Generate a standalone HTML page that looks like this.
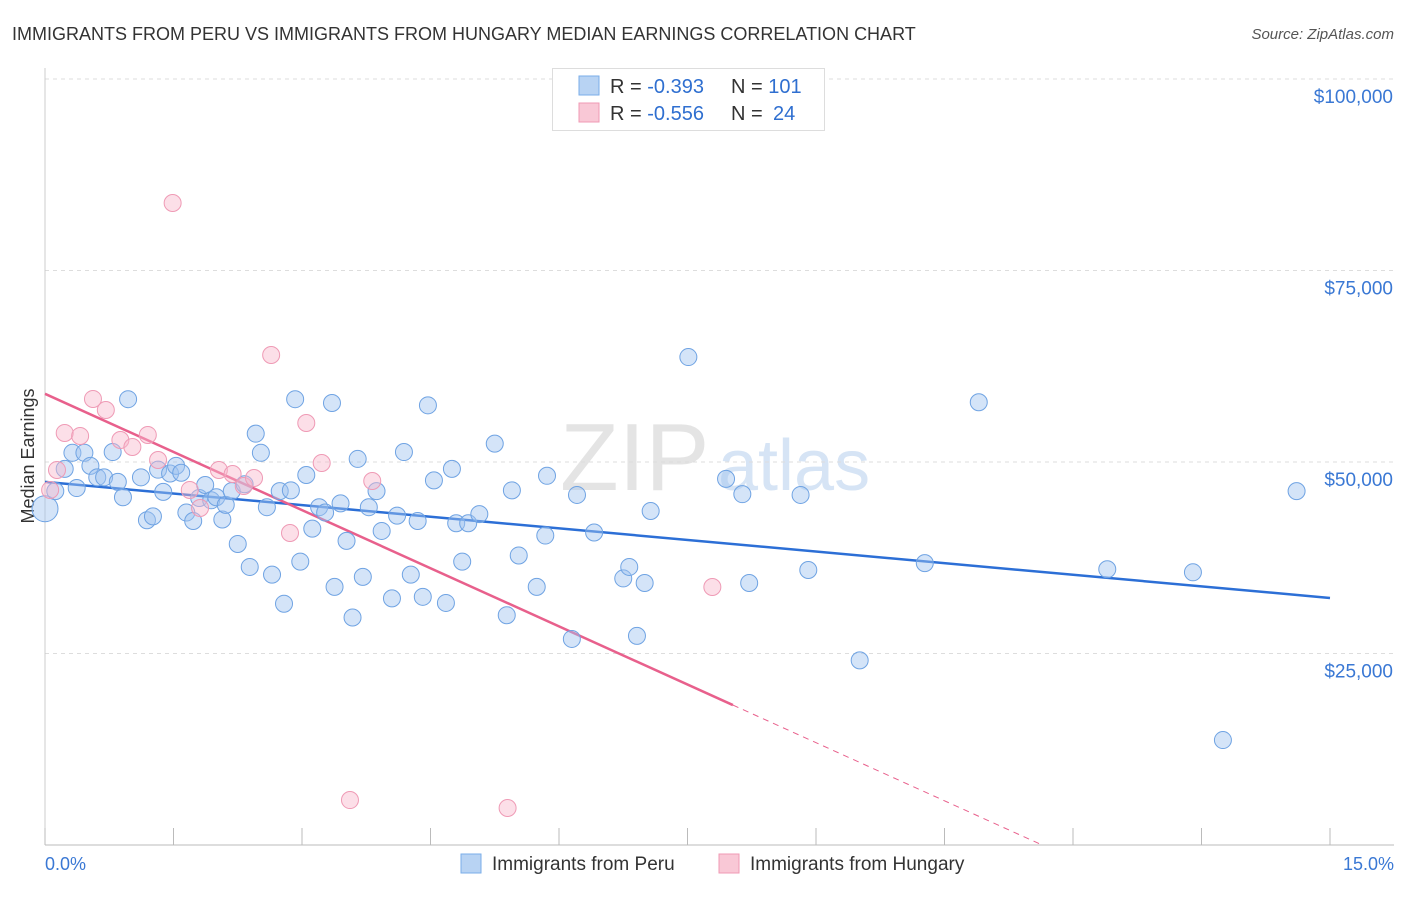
<!DOCTYPE html>
<html><head><meta charset="utf-8"><style>
body{margin:0;background:#fff;font-family:"Liberation Sans",sans-serif;}
svg text{font-family:"Liberation Sans",sans-serif;}
</style></head><body>
<svg id="c" width="1406" height="892" xmlns="http://www.w3.org/2000/svg">
<text x="12" y="40" font-size="18" fill="#333">IMMIGRANTS FROM PERU VS IMMIGRANTS FROM HUNGARY MEDIAN EARNINGS CORRELATION CHART</text>
<text x="1394" y="39" font-size="15" fill="#555" font-style="italic" text-anchor="end">Source: ZipAtlas.com</text>
<text x="560" y="490" font-size="96" fill="#e4e4e4" font-family="Liberation Serif">ZIP</text>
<text x="718" y="490" font-size="72" fill="#d6e4f5">atlas</text>
<text x="34" y="456" font-size="18" fill="#333" text-anchor="middle" transform="rotate(-90 34 456)">Median Earnings</text>
<g id="grid"></g><g id="axes"></g><g id="lines"></g><g id="pts"></g>
<g>
<rect x="552.5" y="68.5" width="272" height="62" fill="#fff" stroke="#ddd"/>
<rect x="579" y="76" width="20" height="19" fill="#b8d3f3" stroke="#7aaee8"/>
<rect x="579" y="103" width="20" height="19" fill="#f9c8d6" stroke="#f09ab4"/>
<text x="610" y="93" font-size="20" fill="#333">R = <tspan fill="#2f6fd0">-0.393</tspan><tspan x="731">N = </tspan><tspan fill="#2f6fd0">101</tspan></text>
<text x="610" y="120" font-size="20" fill="#333">R = <tspan fill="#2f6fd0">-0.556</tspan><tspan x="731">N = </tspan><tspan fill="#2f6fd0" x="773">24</tspan></text>
</g>
<g>
<rect x="461" y="854" width="20" height="19" fill="#b8d3f3" stroke="#7aaee8"/>
<text x="492" y="870" font-size="19" fill="#333">Immigrants from Peru</text>
<rect x="719" y="854" width="20" height="19" fill="#f9c8d6" stroke="#f09ab4"/>
<text x="750" y="870" font-size="19" fill="#333">Immigrants from Hungary</text>
</g>
</svg>
<script>
const yTicks=[25000,50000,75000,100000];
const yTickLabels=["$25,000","$50,000","$75,000","$100,000"];
const xTickLabels=["0.0%","15.0%"];
const peruX=[0,0.12,0.23,0.32,0.37,0.46,0.53,0.61,0.69,0.79,0.85,0.91,0.97,1.12,1.19,1.26,1.32,1.38,1.46,1.53,1.59,1.65,1.73,1.8,1.87,1.94,2.0,2.07,2.11,2.18,2.25,2.33,2.39,2.46,2.52,2.59,2.65,2.74,2.79,2.87,2.92,2.98,3.05,3.12,3.2,3.27,3.35,3.38,3.45,3.52,3.59,3.65,3.71,3.78,3.87,3.93,4.05,4.11,4.19,4.27,4.35,4.41,4.47,4.54,4.68,4.75,4.8,4.87,4.94,5.07,5.25,5.39,5.45,5.53,5.74,5.84,5.86,6.15,6.21,6.41,6.75,6.82,6.91,7.0,7.07,7.51,7.95,8.14,8.22,8.82,8.91,9.51,10.27,10.9,12.4,13.4,13.75,14.61];
const peruY=[43900,46200,49100,51200,46600,51200,49500,48000,48000,51300,47400,45400,58200,48000,42400,42900,49000,46100,48500,49500,48600,43400,42300,45300,47000,45000,45400,42500,44400,46200,39300,47100,36300,53700,51200,44100,35300,46200,31500,46300,58200,37000,48300,41300,44100,43400,57700,33700,44600,39700,29700,50400,35000,44100,46200,41000,32200,43000,51300,35300,42300,32400,57400,47600,31600,49100,42000,37000,42000,43200,52400,30000,46300,37800,33700,40400,48200,26900,45700,40800,34800,36300,27300,34200,43600,63700,47800,45800,34200,45700,35900,24100,36800,57800,36000,35600,13700,46200];
const hunX=[0.06,0.14,0.23,0.41,0.56,0.71,0.88,1.02,1.2,1.32,1.49,1.69,1.81,2.03,2.19,2.32,2.44,2.64,2.86,3.05,3.23,3.56,3.82,5.4,7.79];
const hunY=[46350,48960,53790,53400,58230,56790,52870,51960,53530,50260,83810,46350,44000,48960,48430,46870,47910,63970,40730,55090,49870,5870,47520,4830,33680];
const peruLine=[47400,32250];
const hunLine=[58900,-5060,8.03];
const NS="http://www.w3.org/2000/svg";
const X0=45,X1=1330,Y0=845,PY=191.5/25000;
const xs=v=>X0+v/15*(X1-X0), ys=v=>Y0-v*PY;
function mk(p,t,a){const e=document.createElementNS(NS,t);for(const k in a)e.setAttribute(k,a[k]);document.getElementById(p).appendChild(e);return e;}
yTicks.forEach((t,i)=>{
 const g=mk('grid','line',{x1:45,x2:1394,y1:ys(t),y2:ys(t),stroke:'#ddd','stroke-dasharray':'4,4'});
 
 
 const l=mk('axes','text',{x:1393,y:ys(t)+24,'font-size':19,fill:'#3a78d4','text-anchor':'end'});l.textContent=yTickLabels[i];
 
 
});
const ax=mk('axes','line',{x1:45,x2:1394,y1:845,y2:845,stroke:'#bbb'});


const ay=mk('axes','line',{x1:45,x2:45,y1:68,y2:845,stroke:'#ccc'});


for(let i=0;i<=10;i++){const t=mk('axes','line',{x1:xs(i*1.5),x2:xs(i*1.5),y1:828,y2:845,stroke:'#bbb'});
 
 }
[[0,45,'start'],[15,1394,'end']].forEach((d,i)=>{const t=mk('axes','text',{x:d[1],y:870,'font-size':18,fill:'#3a78d4','text-anchor':d[2]});t.textContent=xTickLabels[i];
 
 });
const bl=mk('lines','line',{x1:xs(0),y1:ys(peruLine[0]),x2:xs(15),y2:ys(peruLine[1]),stroke:'#2c6fd6','stroke-width':2.5});


const hEnd=hunLine[2], hZero=-hunLine[0]/hunLine[1];
const pl=mk('lines','line',{x1:xs(0),y1:ys(hunLine[0]),x2:xs(hEnd),y2:ys(hunLine[0]+hunLine[1]*hEnd),stroke:'#e8608c','stroke-width':2.5});


const pd=mk('lines','line',{x1:xs(hEnd),y1:ys(hunLine[0]+hunLine[1]*hEnd),x2:xs(hZero),y2:ys(0),stroke:'#e8608c','stroke-width':1,'stroke-dasharray':'6,5'});


peruX.forEach((x,i)=>{const c=mk('pts','circle',{cx:xs(x),cy:ys(peruY[i]),r:i==0?13:8.5,fill:'rgba(160,196,240,0.45)',stroke:'#6fa3e3','stroke-width':1});
 
 });
hunX.forEach((x,i)=>{const c=mk('pts','circle',{cx:xs(x),cy:ys(hunY[i]),r:8.5,fill:'rgba(248,184,204,0.45)',stroke:'#ef9ab5','stroke-width':1});
 
 });
</script>
</body></html>
